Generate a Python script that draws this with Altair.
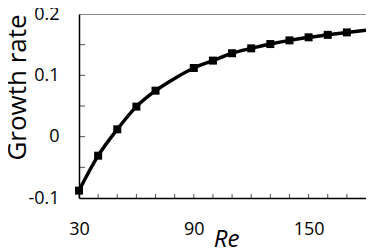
import altair as alt
import pandas as pd

# measured points
re_pts = [30, 40, 50, 60, 70, 90, 100, 110, 120, 130, 140, 150, 160, 170]
gr_pts = [-0.088, -0.031, 0.012, 0.049, 0.075, 0.112, 0.124, 0.136, 0.144,
          0.151, 0.157, 0.162, 0.166, 0.170]

# smooth curve through the points, extended to the axis end
re_line = [30, 40, 50, 60, 70, 80, 90, 100, 110, 120, 130, 140, 150, 160, 170, 180]
gr_line = [-0.088, -0.031, 0.012, 0.049, 0.075, 0.095, 0.112, 0.124, 0.136, 0.144,
           0.151, 0.157, 0.162, 0.166, 0.170, 0.1735]

x_ticks = [30, 40, 50, 60, 70, 80, 90, 100, 110, 120, 130, 140, 150, 160, 170]
x_labels = [30, 90, 150]
y_ticks = [-0.05, 0.0, 0.05, 0.1, 0.15]
y_labels = [-0.1, 0.0, 0.1, 0.2]

W, H = 287, 184
FONT = "Open Sans"

pts = pd.DataFrame({"Re": re_pts, "g": gr_pts})
line = pd.DataFrame({"Re": re_line, "g": gr_line})
xt = pd.DataFrame({"Re": x_ticks})
yt = pd.DataFrame({"g": y_ticks})

xscale = alt.Scale(domain=[30, 180], nice=False, zero=False)
yscale = alt.Scale(domain=[-0.1, 0.2], nice=False, zero=False)

xaxis = alt.Axis(values=x_labels, ticks=False, grid=False, domainColor="black",
                 domainWidth=1.5, labelFontSize=18, labelFont=FONT, labelColor="black",
                 labelPadding=36, labelBaseline="alphabetic", labelFlush=False,
                 title="Re", titleFont=FONT, titleFontSize=24, titleFontStyle="italic",
                 titleFontWeight="normal", titleColor="black", titleX=147, titleY=48,
                 titleAlign="center", titleBaseline="alphabetic")
yaxis = alt.Axis(values=y_labels, ticks=False, grid=False, domainColor="black",
                 domainWidth=1.5, labelFontSize=18, labelFont=FONT, labelColor="black",
                 labelPadding=20, labelFlush=False,
                 labelExpr="datum.value == 0 ? '0' : (datum.value < 0 ? '-' : '') + format(abs(datum.value), '.1f')",
                 title="Growth rate", titleFont=FONT, titleFontSize=26,
                 titleFontWeight="normal", titleColor="black", titleAngle=-90,
                 titleX=-62, titleY=73, titleAlign="center", titleBaseline="middle")

base_line = alt.Chart(line).mark_line(color="black", strokeWidth=3.5, interpolate="monotone").encode(
    x=alt.X("Re:Q", scale=xscale, axis=xaxis),
    y=alt.Y("g:Q", scale=yscale, axis=yaxis),
)
points = alt.Chart(pts).mark_point(shape="square", filled=True, color="black", size=64, opacity=1).encode(
    x=alt.X("Re:Q", scale=xscale),
    y=alt.Y("g:Q", scale=yscale),
)
xtick = alt.Chart(xt).mark_tick(color="black", thickness=1, size=4, orient="vertical").encode(
    x=alt.X("Re:Q", scale=xscale),
    y=alt.value(H - 2),
)
ytick = alt.Chart(yt).mark_tick(color="black", thickness=1, size=6, orient="horizontal").encode(
    y=alt.Y("g:Q", scale=yscale),
    x=alt.value(3),
)

chart = alt.layer(base_line, points, xtick, ytick).properties(
    width=W, height=H,
    autosize=alt.AutoSizeParams(type="none"),
    padding={"left": 71, "top": 6, "right": 0, "bottom": 51},
).configure_view(stroke="#8c8c8c", strokeWidth=1)

chart.save("out.html", embed_options={"renderer": "svg", "actions": False})
